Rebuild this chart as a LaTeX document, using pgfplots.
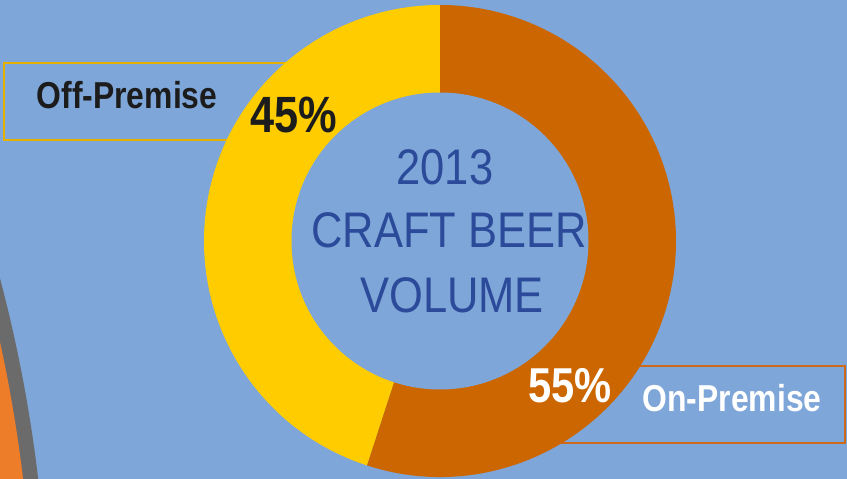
\documentclass[border=0pt]{standalone}
\usepackage{pgfplots}
\pgfplotsset{compat=1.18}
\usepackage{pgfplotstable}
\usepackage{fontspec}
\setmainfont{Liberation Sans}
\newfontfamily\narrowfont[FakeStretch=0.85]{Liberation Sans}
\newfontfamily\centerfont[FakeStretch=0.87]{Liberation Sans}
\definecolor{bg}{HTML}{7EA6D8}
\definecolor{yel}{HTML}{FFCC00}
\definecolor{org}{HTML}{CC6600}
\definecolor{greyring}{HTML}{6B6B6B}
\definecolor{leftorange}{HTML}{EE7D2A}
\definecolor{centerblue}{HTML}{2B4A9A}
\definecolor{offbox}{HTML}{E6B000}
\definecolor{onbox}{HTML}{CC6A1A}
\definecolor{darktext}{HTML}{1C1C1C}
\pgfplotstableread{
Label Value
Off-Premise 45
On-Premise 55
}\shares
\begin{document}
\begin{tikzpicture}
\pgfplotstablegetelem{0}{Value}\of\shares \pgfmathsetmacro{\offv}{\pgfplotsretval}
\pgfplotstablegetelem{1}{Value}\of\shares \pgfmathsetmacro{\onv}{\pgfplotsretval}
\pgfmathsetmacro{\aStart}{90}
\pgfmathsetmacro{\aMid}{90+3.6*\offv}
\pgfmathsetmacro{\aEnd}{\aMid+3.6*\onv}
\begin{axis}[width=847pt,height=479pt,scale only axis,
  xmin=0,xmax=847,ymin=0,ymax=479,hide axis,clip=true]
\fill[bg] (axis cs:0,0) rectangle (axis cs:847,479);
% partial neighbouring circle at left edge
\fill[greyring] (axis cs:-1397.6,-171) circle[radius=1445.8pt];
\fill[leftorange] (axis cs:-1397.6,-171) circle[radius=1430.8pt];
% label boxes (behind the ring)
\draw[line width=2pt, offbox] (axis cs:4,416) rectangle (axis cs:340,339);
\draw[line width=2pt, onbox] (axis cs:545,113) rectangle (axis cs:845,36);
% donut
\fill[yel] (axis cs:440,238) -- ++(\aStart:236pt) arc[start angle=\aStart,end angle=\aMid,radius=236pt] -- cycle;
\fill[org] (axis cs:440,238) -- ++(\aMid:236pt) arc[start angle=\aMid,end angle=\aEnd,radius=236pt] -- cycle;
\fill[bg] (axis cs:440,238) circle[radius=148.5pt];
% labels
\node[anchor=base,inner sep=0pt,text=darktext] at (axis cs:127,370)
  {\narrowfont\bfseries\fontsize{37.5}{40}\selectfont Off-Premise};
\node[anchor=base,inner sep=0pt,text=darktext] at (axis cs:294,346)
  {\narrowfont\bfseries\fontsize{51}{54}\selectfont 45\%};
\node[anchor=base,inner sep=0pt,text=white] at (axis cs:570,76)
  {\narrowfont\bfseries\fontsize{49}{52}\selectfont 55\%};
\node[anchor=base,inner sep=0pt,text=white] at (axis cs:732,67)
  {\narrowfont\bfseries\fontsize{37.5}{40}\selectfont On-Premise};
% centre title
\node[anchor=base,inner sep=0pt,text=centerblue] at (axis cs:445,294)
  {\centerfont\fontsize{50}{54}\selectfont 2013};
\node[anchor=base,inner sep=0pt,text=centerblue] at (axis cs:449,231)
  {\centerfont\fontsize{50}{54}\selectfont CRAFT BEER};
\node[anchor=base,inner sep=0pt,text=centerblue] at (axis cs:452,166)
  {\centerfont\fontsize{50}{54}\selectfont VOLUME};
\end{axis}
\pgfresetboundingbox
\path (current axis.south west) rectangle (current axis.north east);
\end{tikzpicture}
\end{document}
